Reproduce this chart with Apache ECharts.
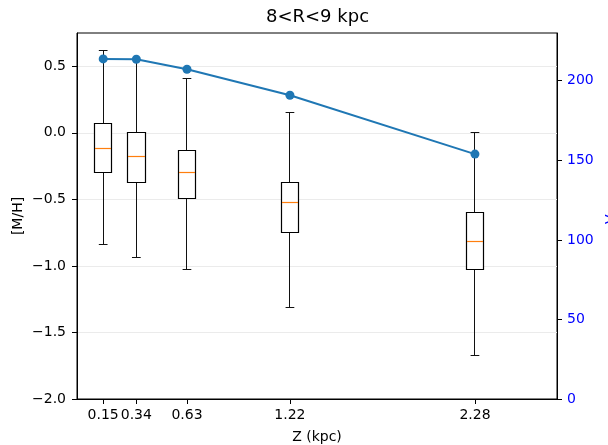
<!DOCTYPE html>
<html>
<head>
<meta charset="utf-8">
<script src="https://cdn.jsdelivr.net/npm/echarts@6/dist/echarts.min.js"></script>
<style>
  html, body { margin: 0; padding: 0; background: #fff; }
  #chart { width: 608px; height: 445px; }
</style>
</head>
<body>
<div id="chart"></div>
<script>
// Height bins above the plane (kpc)
const zBins = [0.15, 0.34, 0.63, 1.22, 2.28];
const zTickLabels = ['0.15', '0.34', '0.63', '1.22', '2.28'];

// [M/H] distribution per bin: whisker ends, quartiles and median
const mhLow    = [-0.84, -0.94, -1.03, -1.31, -1.67];
const mhQ1     = [-0.295, -0.375, -0.49, -0.75, -1.03];
const mhMedian = [-0.115, -0.18, -0.30, -0.527, -0.82];
const mhQ3     = [0.073, 0.0, -0.132, -0.377, -0.60];
const mhHigh   = [0.618, 0.55, 0.405, 0.153, 0.0];

// Mean rotational velocity per bin (km/s)
const vPhi = [213.7, 213.5, 207.2, 190.9, 153.9];

// Axis tick values
const mhTicks = [-2.0, -1.5, -1.0, -0.5, 0.0, 0.5];
const vTicks = [0, 50, 100, 150, 200];

const FONT = 'DejaVu Sans';
const BOX_HALF = 0.05;   // half box width, in kpc
const CAP_HALF = 0.025;  // half whisker-cap width, in kpc

const boxData = zBins.map((z, i) => [z, mhLow[i], mhQ1[i], mhMedian[i], mhQ3[i], mhHigh[i]]);
const lineData = zBins.map((z, i) => [z, vPhi[i]]);

function fmtMinus(v, digits) {
  const s = Math.abs(v).toFixed(digits);
  return (v < -1e-9 ? '\u2212' : '') + s;
}

// snap to pixel centres so 1px strokes stay crisp
const px = v => Math.round(v - 0.5) + 0.5;

function renderBox(params, api) {
  const x = api.value(0);
  const low = api.value(1), q1 = api.value(2), med = api.value(3), q3 = api.value(4), high = api.value(5);
  const tl = api.coord([x - BOX_HALF, q3]);
  const br = api.coord([x + BOX_HALF, q1]);
  const cx = px(api.coord([x, 0])[0]);
  const yHigh = px(api.coord([x, high])[1]);
  const yLow = px(api.coord([x, low])[1]);
  const capL = api.coord([x - CAP_HALF, high])[0];
  const capR = api.coord([x + CAP_HALF, high])[0];
  const medY = px(api.coord([x, med])[1]);
  const bx1 = px(tl[0]), bx2 = px(br[0]), by1 = px(tl[1]), by2 = px(br[1]);
  const black = { stroke: '#111', lineWidth: 1, fill: null };
  return {
    type: 'group',
    children: [
      { type: 'line', shape: { x1: cx, y1: by1, x2: cx, y2: yHigh }, style: black },
      { type: 'line', shape: { x1: cx, y1: by2, x2: cx, y2: yLow }, style: black },
      { type: 'line', shape: { x1: capL, y1: yHigh, x2: capR, y2: yHigh }, style: black },
      { type: 'line', shape: { x1: capL, y1: yLow, x2: capR, y2: yLow }, style: black },
      { type: 'rect', shape: { x: bx1, y: by1, width: bx2 - bx1, height: by2 - by1 },
        style: { stroke: '#000', lineWidth: 1.2, fill: '#fff' } },
      { type: 'line', shape: { x1: bx1 + 0.5, y1: medY, x2: bx2 - 0.5, y2: medY },
        style: { stroke: '#ff7f0e', lineWidth: 1.2 } }
    ]
  };
}

const chart = echarts.init(document.getElementById('chart'), null, { renderer: 'canvas' });

chart.setOption({
  animation: false,
  backgroundColor: '#fff',
  textStyle: { fontFamily: FONT },
  title: {
    text: '8<R<9 kpc',
    left: 266,
    top: 8,
    padding: 0,
    textStyle: { fontFamily: FONT, fontSize: 18, fontWeight: 'normal', color: '#000' }
  },
  grid: {
    left: 77, right: 51, top: 33, bottom: 46,
    outerBoundsMode: 'none',
    containLabel: false,
    show: true, borderColor: '#000', borderWidth: 1, backgroundColor: 'transparent'
  },
  xAxis: {
    type: 'value',
    min: 0, max: 2.75,
    name: 'Z (kpc)',
    nameLocation: 'middle',
    nameGap: 31,
    nameTextStyle: { fontFamily: FONT, fontSize: 14, color: '#000' },
    axisLine: { show: true, onZero: false, lineStyle: { color: '#000', width: 1 } },
    axisTick: { show: true, customValues: zBins, length: 5, lineStyle: { color: '#000' } },
    axisLabel: {
      customValues: zBins,
      margin: 9,
      fontFamily: FONT, fontSize: 14, color: '#000',
      hideOverlap: false,
      formatter: v => zTickLabels[zBins.indexOf(v)] ?? String(v)
    },
    splitLine: { show: false }
  },
  yAxis: [
    {
      type: 'value',
      min: -2, max: 0.75, interval: 0.5,
      name: '[M/H]',
      nameLocation: 'middle',
      nameGap: 52,
      nameMoveOverlap: false,
      nameTextStyle: { fontFamily: FONT, fontSize: 14, color: '#000' },
      axisLine: { show: true, onZero: false, lineStyle: { color: '#000', width: 1 } },
      axisTick: { show: true, customValues: mhTicks, length: 5, lineStyle: { color: '#000' } },
      axisLabel: {
        customValues: mhTicks,
        margin: 11,
        fontFamily: FONT, fontSize: 14, color: '#000',
        formatter: v => fmtMinus(v, 1)
      },
      splitLine: { show: true, lineStyle: { color: '#ebebeb', width: 1 } }
    },
    {
      type: 'value',
      min: 0, max: 230, interval: 50,
      position: 'right',
      name: 'V{sub|\u03c6}',
      nameLocation: 'middle',
      nameGap: 46,
      nameRotate: 90,
      nameTextStyle: {
        fontFamily: FONT, fontSize: 14, color: '#0000ff',
        rich: { sub: { fontFamily: FONT, fontSize: 10, color: '#0000ff', verticalAlign: 'bottom', padding: [6, 0, 0, 0] } }
      },
      axisLine: { show: true, onZero: false, lineStyle: { color: '#000', width: 1 } },
      axisTick: { show: true, customValues: vTicks, length: 5, lineStyle: { color: '#000' } },
      axisLabel: {
        customValues: vTicks,
        margin: 10,
        fontFamily: FONT, fontSize: 14, color: '#0000ff'
      },
      splitLine: { show: false }
    }
  ],
  series: [
    {
      type: 'custom',
      name: '[M/H]',
      xAxisIndex: 0,
      yAxisIndex: 0,
      renderItem: renderBox,
      encode: { x: 0, y: [1, 2, 3, 4, 5] },
      data: boxData,
      z: 2
    },
    {
      type: 'line',
      name: 'Vphi',
      xAxisIndex: 0,
      yAxisIndex: 1,
      data: lineData,
      symbol: 'circle',
      symbolSize: 9,
      showSymbol: true,
      itemStyle: { color: '#1f77b4' },
      lineStyle: { color: '#1f77b4', width: 2 },
      z: 5
    }
  ]
});
</script>
</body>
</html>
